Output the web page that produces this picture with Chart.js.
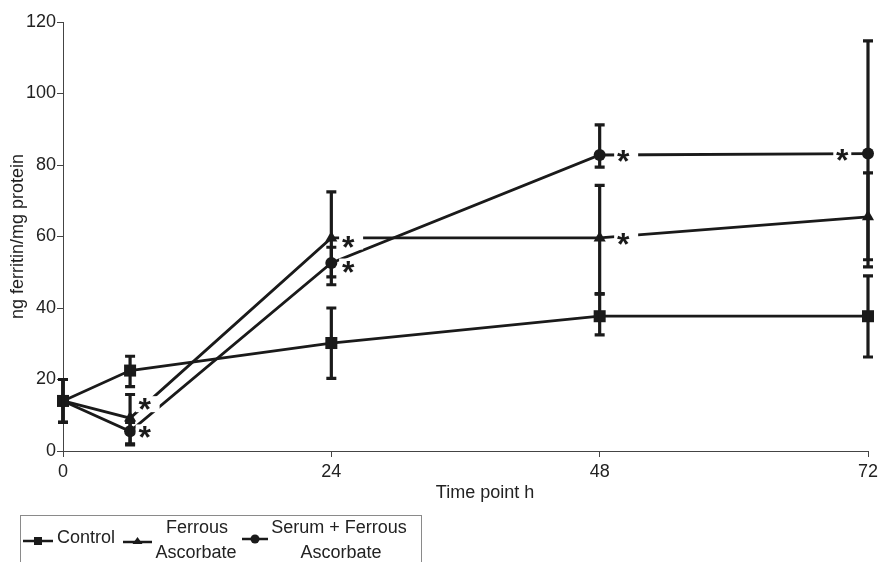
<!DOCTYPE html>
<html>
<head>
<meta charset="utf-8">
<script src="https://cdn.jsdelivr.net/npm/chart.js@4"></script>
<style>
  html, body { margin: 0; padding: 0; background: #fff; }
  #wrap { width: 883px; height: 562px; }
</style>
</head>
<body>
<div id="wrap"><canvas id="ferritinChart" width="883" height="562"></canvas></div>
<script>
// time points (h)
const timePoints = [0, 6, 24, 48, 72];

// ng ferritin / mg protein, with error bar ends
const control      = [14, 22.5, 30.2, 37.7, 37.7];
const controlLow   = [8, 18, 20.3, 32.5, 26.3];
const controlHigh  = [20, 26.5, 40, 43.9, 49];

const ferrous      = [14, 9.2, 59.6, 59.6, 65.5];
const ferrousLow   = [8, 2, 46.5, 44, 53.5];
const ferrousHigh  = [20, 15.8, 72.5, 74.3, 77.8];

const serum        = [14, 5.5, 52.6, 82.8, 83.2];
const serumLow     = [8, 1.7, 48.7, 79.4, 51.5];
const serumHigh    = [20, 8, 57, 91.2, 114.7];

// significance marks (*) anchors
const starX = [7.3, 7.3, 25.5, 25.5, 50.1, 50.1, 69.7];
const starY = [13.1, 5.2, 58.6, 51.6, 82.5, 59.2, 82.8];

const xTicks = [0, 24, 48, 72];
const INK = '#1a1a1a';
const FONT = '"Liberation Sans", Arial, sans-serif';

function points(values) {
  return timePoints.map((t, i) => ({ x: t, y: values[i] }));
}

function series(label, values, low, high, style, radius) {
  return {
    label: label,
    data: points(values),
    errLow: low,
    errHigh: high,
    borderColor: INK,
    backgroundColor: INK,
    borderWidth: 2.8,
    pointStyle: style,
    pointRadius: radius,
    pointHoverRadius: radius,
    pointBorderWidth: 0,
    clip: false,
    tension: 0
  };
}

const errorBars = {
  id: 'errorBars',
  afterDatasetsDraw(chart) {
    const ctx = chart.ctx;
    const xs = chart.scales.x, ys = chart.scales.y;
    ctx.save();
    ctx.strokeStyle = INK;
    ctx.lineWidth = 3.2;
    chart.data.datasets.forEach(ds => {
      ds.data.forEach((p, i) => {
        const x = xs.getPixelForValue(p.x);
        const y1 = ys.getPixelForValue(ds.errLow[i]);
        const y2 = ys.getPixelForValue(ds.errHigh[i]);
        ctx.beginPath();
        ctx.moveTo(x, y1); ctx.lineTo(x, y2);
        ctx.moveTo(x - 5, y1); ctx.lineTo(x + 5, y1);
        ctx.moveTo(x - 5, y2); ctx.lineTo(x + 5, y2);
        ctx.stroke();
      });
    });
    ctx.restore();
  }
};

const stars = {
  id: 'stars',
  afterDatasetsDraw(chart) {
    const ctx = chart.ctx;
    const xs = chart.scales.x, ys = chart.scales.y;
    ctx.save();
    ctx.font = 'bold 32px ' + FONT;
    ctx.textAlign = 'center';
    ctx.textBaseline = 'alphabetic';
    const m = ctx.measureText('*');
    const shift = (m.actualBoundingBoxAscent - m.actualBoundingBoxDescent) / 2;
    starX.forEach((sx, i) => {
      const x = xs.getPixelForValue(sx);
      const y = ys.getPixelForValue(starY[i]);
      const leftSide = sx > 60;
      ctx.fillStyle = '#fff';
      if (leftSide) ctx.fillRect(x - 9, y - 8, 18, 16);
      else ctx.fillRect(x - 9, y - 8, 24, 16);
      ctx.fillStyle = INK;
      ctx.fillText('*', x, y + shift);
    });
    ctx.restore();
  }
};

// x title sits a little right of centre in the original, plus the boxed legend
const boxLegend = {
  id: 'boxLegend',
  afterDraw(chart) {
    const ctx = chart.ctx;
    ctx.save();
    ctx.fillStyle = '#222';
    ctx.font = '18px ' + FONT;
    ctx.textBaseline = 'middle';
    ctx.textAlign = 'center';
    ctx.fillText('Time point h', 485, 493);

    ctx.strokeStyle = '#8a8a8a';
    ctx.lineWidth = 1;
    ctx.strokeRect(20.5, 515.5, 401, 60);

    ctx.strokeStyle = INK;
    ctx.fillStyle = INK;
    ctx.lineWidth = 2.5;
    function sample(x1, x2, y) {
      ctx.beginPath(); ctx.moveTo(x1, y); ctx.lineTo(x2, y); ctx.stroke();
    }
    sample(23, 53, 541);
    ctx.fillRect(34, 537, 8, 8);
    sample(123, 152, 542);
    ctx.beginPath(); ctx.moveTo(137.5, 537); ctx.lineTo(142.5, 544); ctx.lineTo(132.5, 544); ctx.closePath(); ctx.fill();
    sample(242, 268, 539);
    ctx.beginPath(); ctx.arc(255, 539, 4.5, 0, Math.PI * 2); ctx.fill();

    ctx.fillStyle = '#222';
    ctx.textAlign = 'left';
    ctx.fillText('Control', 57, 538);
    ctx.textAlign = 'center';
    ctx.fillText('Ferrous', 197, 528);
    ctx.fillText('Ascorbate', 196, 553);
    ctx.fillText('Serum + Ferrous', 339, 528);
    ctx.fillText('Ascorbate', 341, 553);
    ctx.restore();
  }
};

new Chart(document.getElementById('ferritinChart'), {
  type: 'line',
  data: {
    datasets: [
      series('Control', control, controlLow, controlHigh, 'rect', 8.5),
      series('Ferrous Ascorbate', ferrous, ferrousLow, ferrousHigh, 'triangle', 7),
      series('Serum + Ferrous Ascorbate', serum, serumLow, serumHigh, 'circle', 6)
    ]
  },
  options: {
    responsive: false,
    animation: false,
    layout: { padding: { top: 22, right: 15, bottom: 57, left: 0 } },
    plugins: {
      legend: { display: false },
      tooltip: { enabled: false }
    },
    scales: {
      x: {
        type: 'linear',
        min: 0,
        max: 72,
        afterFit(scale) { scale.height = 54; },
        afterBuildTicks(scale) { scale.ticks = xTicks.map(v => ({ value: v })); },
        grid: { drawOnChartArea: false, tickLength: 6, color: '#444' },
        border: { color: '#444', width: 1 },
        ticks: { color: '#222', padding: 4, font: { family: FONT, size: 18 } },
        title: { display: false }
      },
      y: {
        min: 0,
        max: 120,
        afterFit(scale) { scale.width = 63; },
        grid: { drawOnChartArea: false, tickLength: 6, color: '#444' },
        border: { color: '#444', width: 1 },
        ticks: { stepSize: 20, color: '#222', padding: 1, font: { family: FONT, size: 18 } },
        title: { display: true, text: 'ng ferritin/mg protein', color: '#222', padding: { top: 7, bottom: 0 }, font: { family: FONT, size: 18 } }
      }
    }
  },
  plugins: [errorBars, stars, boxLegend]
});
</script>
</body>
</html>
